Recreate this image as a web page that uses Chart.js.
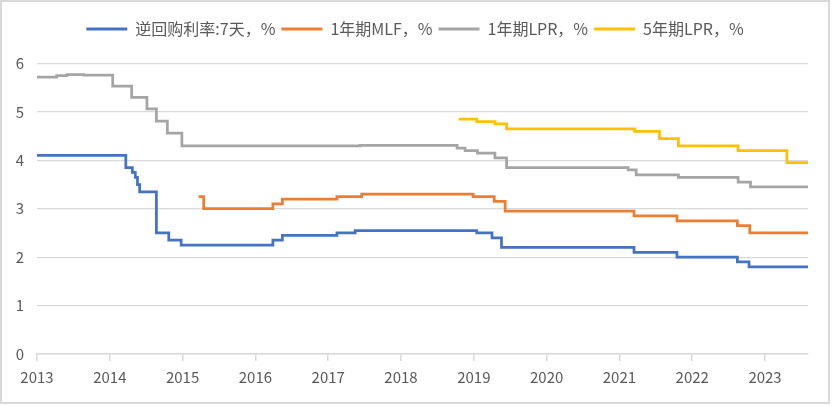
<!DOCTYPE html>
<html>
<head>
<meta charset="utf-8">
<script src="https://cdn.jsdelivr.net/npm/chart.js@4"></script>
<style>
body { margin: 0; background: #fff; }
#box { width: 826px; height: 400px; border: 2px solid #d9d9d9; position: relative; }
</style>
</head>
<body>
<div id="box"><canvas id="chart"></canvas></div>
<script>
// dates are decimal years where the rate changes, values in %
const xStart = 2013
const xEnd = 2023.59

const repoDates  = [2013.00, 2014.22, 2014.31, 2014.35, 2014.38, 2014.41, 2014.64, 2014.81, 2014.98, 2016.24, 2016.37, 2017.12, 2017.37, 2019.04, 2019.25, 2019.38, 2021.20, 2021.79, 2022.62, 2022.78, 2023.59]
const repoValues = [4.10, 3.85, 3.75, 3.65, 3.50, 3.35, 2.50, 2.35, 2.25, 2.35, 2.45, 2.50, 2.55, 2.50, 2.40, 2.20, 2.10, 2.00, 1.90, 1.80, 1.80]

const mlfDates  = [2015.22, 2015.29, 2016.24, 2016.37, 2017.12, 2017.46, 2018.99, 2019.28, 2019.43, 2021.20, 2021.79, 2022.62, 2022.79, 2023.59]
const mlfValues = [3.25, 3.00, 3.10, 3.20, 3.25, 3.30, 3.25, 3.15, 2.95, 2.85, 2.75, 2.65, 2.50, 2.50]

const lpr1Dates  = [2013.00, 2013.27, 2013.41, 2013.64, 2014.04, 2014.30, 2014.51, 2014.64, 2014.79, 2014.99, 2017.44, 2018.77, 2018.88, 2019.05, 2019.29, 2019.45, 2021.12, 2021.23, 2021.81, 2022.63, 2022.80, 2023.59]
const lpr1Values = [5.72, 5.75, 5.77, 5.76, 5.53, 5.30, 5.06, 4.81, 4.56, 4.30, 4.31, 4.25, 4.20, 4.15, 4.05, 3.85, 3.80, 3.70, 3.65, 3.55, 3.45, 3.45]

const lpr5Dates  = [2018.79, 2019.04, 2019.29, 2019.45, 2021.21, 2021.55, 2021.81, 2022.63, 2023.30, 2023.59]
const lpr5Values = [4.85, 4.80, 4.75, 4.65, 4.60, 4.45, 4.30, 4.20, 3.95, 3.95]

const seriesNames = ['逆回购利率:7天，%', '1年期MLF，%', '1年期LPR，%', '5年期LPR，%']
const seriesColors = ['#4472C4', '#ED7D31', '#A5A5A5', '#FFC000']

function points(dates, values) {
    return dates.map((d, i) => ({ x: d, y: values[i] }))
}

const allSeries = [
    points(repoDates, repoValues),
    points(mlfDates, mlfValues),
    points(lpr1Dates, lpr1Values),
    points(lpr5Dates, lpr5Values)
]

const isWhole = v => Math.abs(v - Math.round(v)) < 1e-6

// nudge the legend a bit to the right, like the original
const legendShift = {
    id: 'legendShift',
    afterLayout(chart) {
        chart.legend.left += 10
        chart.legend.right += 10
    }
}

Chart.defaults.font.family = "'Noto Sans CJK SC', 'Noto Sans', sans-serif"
Chart.defaults.font.size = 15
Chart.defaults.color = '#595959'

const ctx = document.getElementById('chart').getContext('2d')
const myChart = new Chart(ctx, {
    type: 'line',
    data: {
        datasets: allSeries.map((pts, i) => ({
            label: seriesNames[i],
            data: pts,
            borderColor: seriesColors[i],
            backgroundColor: seriesColors[i],
            borderWidth: 2.75,
            pointRadius: 0,
            stepped: 'before'
        }))
    },
    plugins: [legendShift],
    options: {
        responsive: true,
        maintainAspectRatio: false,
        animation: false,
        layout: { padding: { left: 0, right: 20, top: 13, bottom: 0 } },
        plugins: {
            tooltip: { enabled: false },
            legend: {
                position: 'top',
                labels: {
                    boxWidth: 41,
                    boxHeight: 3,
                    padding: 6,
                    font: { size: 16 },
                    generateLabels: chart => Chart.defaults.plugins.legend.labels.generateLabels(chart)
                        .map(l => Object.assign(l, { lineWidth: 0 }))
                }
            }
        },
        scales: {
            x: {
                type: 'linear',
                min: xStart,
                max: xEnd,
                afterBuildTicks: scale => {
                    scale.ticks = scale.ticks.filter(t => isWhole(t.value))
                },
                afterFit: scale => { scale.height = 48 },
                ticks: {
                    stepSize: 1,
                    includeBounds: false,
                    padding: 7,
                    maxRotation: 0,
                    autoSkip: false,
                    font: { size: 15 },
                    callback: v => String(Math.round(v))
                },
                grid: {
                    drawOnChartArea: false,
                    drawTicks: true,
                    tickLength: 7,
                    color: '#d9d9d9',
                    lineWidth: 1.5
                },
                border: { display: true, color: '#d9d9d9', width: 1.5 }
            },
            y: {
                min: 0,
                max: 6.34,
                afterBuildTicks: scale => {
                    scale.ticks = scale.ticks.filter(t => isWhole(t.value))
                },
                afterFit: scale => { scale.width = 35 },
                ticks: { stepSize: 1, includeBounds: false, padding: 13, font: { size: 15 }, callback: v => String(Math.round(v)) },
                grid: { color: '#d9d9d9', lineWidth: 1.2, drawTicks: false },
                border: { display: false }
            }
        }
    }
})
</script>
</body>
</html>
